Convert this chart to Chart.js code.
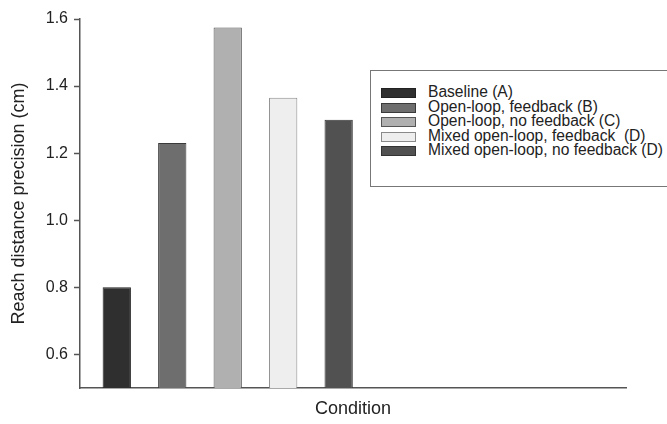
<!DOCTYPE html>
<html>
<head>
<meta charset="utf-8">
<script src="https://cdn.jsdelivr.net/npm/chart.js@4.4.0/dist/chart.umd.min.js"></script>
<style>
  body { margin: 0; background: #fff; }
  #wrap { position: relative; width: 667px; height: 424px; }
  #legend {
    position: absolute; left: 370px; top: 70px; width: 310px; height: 117px;
    border: 1px solid #777; box-sizing: border-box; background: #fff;
    font-family: "Liberation Sans", Arial, sans-serif; font-size: 15.6px; color: #222;
    padding-top: 14px;
  }
  .row { position: relative; height: 14.6px; line-height: 14.6px; white-space: pre; padding-left: 57px; }
  .sw { position: absolute; left: 10px; top: 3px; width: 33px; height: 8px; border: 1px solid #333; }
</style>
</head>
<body>
<div id="wrap">
  <canvas id="chart" width="667" height="424"></canvas>
  <div id="legend"></div>
</div>
<script>
// categorias y valores
const conditions = ['Baseline (A)', 'Open-loop, feedback (B)', 'Open-loop, no feedback (C)', 'Mixed open-loop, feedback  (D)', 'Mixed open-loop, no feedback (D)'];
const positions = [1, 2, 3, 4, 5];
const precision = [0.80, 1.23, 1.575, 1.365, 1.30];
const barColors = ['#2f2f2f', '#6e6e6e', '#b0b0b0', '#eeeeee', '#515151'];
const edgeColors = ['#222222', '#3a3a3a', '#555555', '#8a8a8a', '#333333'];
const yTicks = [0.6, 0.8, 1.0, 1.2, 1.4, 1.6];

const fontFam = '"Liberation Sans", Arial, sans-serif';

const ctx = document.getElementById('chart').getContext('2d');
const grafico = new Chart(ctx, {
    type: 'bar',
    data: {
        datasets: [{
            data: positions.map((p, i) => ({ x: p, y: precision[i] })),
            backgroundColor: barColors,
            borderColor: edgeColors,
            borderWidth: 1,
            barPercentage: 0.51,
            categoryPercentage: 1
        }]
    },
    options: {
        responsive: false,
        animation: false,
        layout: { padding: { left: 0, right: 41, top: 19, bottom: 0 } },
        plugins: { legend: { display: false }, tooltip: { enabled: false } },
        scales: {
            x: {
                type: 'linear',
                offset: false,
                min: 0.337,
                max: 10.18,
                grid: { display: false },
                border: { display: true, color: '#555', width: 1.5 },
                ticks: { display: false },
                title: {
                    display: true, text: 'Condition', color: '#222',
                    font: { family: fontFam, size: 18 }, padding: { top: 0, bottom: 4 }
                },
                afterFit: function (scale) { scale.height = 36; }
            },
            y: {
                min: 0.5,
                max: 1.6,
                afterBuildTicks: function (scale) { scale.ticks = yTicks.map(v => ({ value: v })); },
                grid: {
                    display: true, drawOnChartArea: false, drawTicks: true,
                    tickLength: 6, tickColor: '#555', tickWidth: 1.5, color: '#555'
                },
                border: { display: true, color: '#555', width: 1.5 },
                ticks: {
                    padding: 6, color: '#222',
                    font: { family: fontFam, size: 16 },
                    callback: v => v.toFixed(1)
                },
                title: {
                    display: true, text: 'Reach distance precision (cm)', color: '#222',
                    font: { family: fontFam, size: 18 }, padding: { top: 8, bottom: 0 }
                },
                afterFit: function (scale) { scale.width = 80; }
            }
        }
    }
});

// leyenda con recuadro
const legend = document.getElementById('legend');
conditions.forEach((name, i) => {
    const row = document.createElement('div');
    row.className = 'row';
    const sw = document.createElement('span');
    sw.className = 'sw';
    sw.style.background = barColors[i];
    sw.style.borderColor = edgeColors[i];
    row.appendChild(sw);
    row.appendChild(document.createTextNode(name));
    legend.appendChild(row);
});
</script>
</body>
</html>
